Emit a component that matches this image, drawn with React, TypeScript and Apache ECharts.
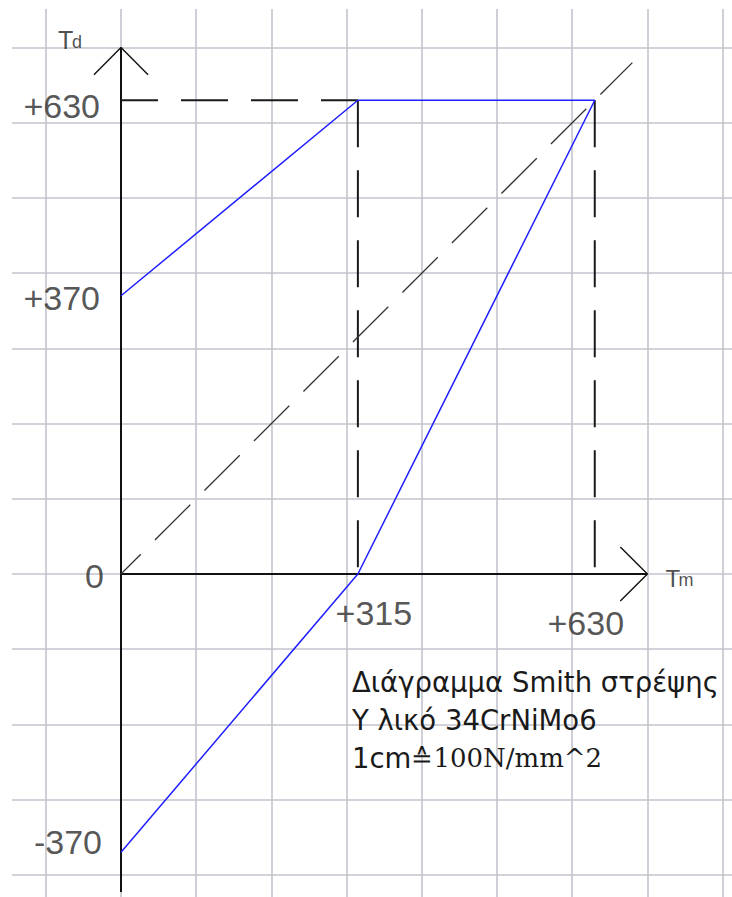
import React, { useEffect, useRef } from "react";
import * as echarts from "echarts";

// Smith diagram for torsion, material 34CrNiMo6 (values in N/mm^2)
const tauMValues = [315, 630]; // mean-stress ticks on the horizontal axis
const tauMLabels = ["+315", "+630"];
const tauDValues = [630, 370, 0, -370]; // ticks on the vertical axis
const tauDLabels = ["+630", "+370", "0", "-370"];

// limit curve: upper branch, yield plateau, lower branch
const limitCurve: [number, number][] = [
  [0, 370],
  [315, 630],
  [630, 630],
  [315, 0],
  [0, -370],
];

// construction lines
const yieldHorizontal: [number, number][] = [
  [0, 630],
  [315, 630],
];
const kneeVertical: [number, number][] = [
  [315, 630],
  [315, 0],
];
const yieldVertical: [number, number][] = [
  [630, 630],
  [630, 0],
];
const diagonal: [number, number][] = [
  [0, 0],
  [680, 680],
];

// drawn axes with arrow heads
const tauDAxis: [number, number][] = [
  [0, -423],
  [0, 700],
];
const tauDArrow: [number, number][] = [
  [-36, 664],
  [0, 700],
  [36, 664],
];
const tauMAxis: [number, number][] = [
  [0, 0],
  [700, 0],
];
const tauMArrow: [number, number][] = [
  [664, 36],
  [700, 0],
  [664, -36],
];

// coordinate window (grid spacing 100)
const xRange = [-200, 900];
const yRange = [-500, 800];

const SCALE = 0.752; // px per N/mm^2
const ORIGIN = { x: 109, y: 565 }; // origin inside the chart box

const numFont = "'Liberation Sans', Arial, sans-serif";

export default function App() {
  const ref = useRef<HTMLDivElement>(null);

  useEffect(() => {
    if (!ref.current) return;
    const chart = echarts.init(ref.current, null, { renderer: "svg" });

    const gridLeft = ORIGIN.x + xRange[0] * SCALE;
    const gridWidth = (xRange[1] - xRange[0]) * SCALE;
    const gridTop = ORIGIN.y - yRange[1] * SCALE;
    const gridHeight = (yRange[1] - yRange[0]) * SCALE;

    const yLabelOffsets: Record<string, [number, number]> = {
      "+630": [-21, 6],
      "+370": [-21, 2],
      "0": [-17, 2],
      "-370": [-19, -10],
    };
    const xLabelOffsets: Record<string, [number, number]> = {
      "+315": [16, 39],
      "+630": [-9, 49],
    };

    const plain = (
      name: string,
      data: [number, number][],
      color: string,
      width: number,
      type: any = "solid",
      dashOffset = 0,
      z = 2
    ) => ({
      name,
      type: "line",
      data,
      showSymbol: false,
      symbol: "none",
      silent: true,
      clip: false,
      z,
      lineStyle: { color, width, type, dashOffset, cap: "butt" },
    });

    // axis symbol parts: letter and its smaller index, both on one baseline
    const namePart = (
      at: [number, number],
      text: string,
      size: number,
      offset: [number, number]
    ) => ({
      value: [at[0], at[1]],
      label: {
        show: true,
        position: "inside",
        formatter: text,
        align: "left",
        verticalAlign: "bottom",
        offset,
        fontFamily: numFont,
        fontSize: size,
        color: "#222",
      },
    });

    chart.setOption({
      animation: false,
      backgroundColor: "#ffffff",
      grid: {
        left: gridLeft,
        top: gridTop,
        width: gridWidth,
        height: gridHeight,
        containLabel: false,
        outerBoundsMode: "none",
      },
      xAxis: {
        type: "value",
        min: xRange[0],
        max: xRange[1],
        interval: 100,
        axisLine: { show: false },
        axisTick: { show: false },
        axisLabel: { show: false },
        splitLine: { show: true, lineStyle: { color: "#c3c3cf", width: 1.6 } },
      },
      yAxis: {
        type: "value",
        min: yRange[0],
        max: yRange[1],
        interval: 100,
        axisLine: { show: false },
        axisTick: { show: false },
        axisLabel: { show: false },
        splitLine: { show: true, lineStyle: { color: "#c3c3cf", width: 1.6 } },
      },
      series: [
        plain("τd axis", tauDAxis, "#111", 2),
        plain("τd arrow", tauDArrow, "#111", 1.4),
        plain("τm axis", tauMAxis, "#111", 2),
        plain("τm arrow", tauMArrow, "#111", 1.4),
        plain("yield line", yieldHorizontal, "#1a1a1a", 2, [47, 23], 10),
        plain("knee line", kneeVertical, "#1a1a1a", 2, [47, 23], 0),
        plain("yield vertical", yieldVertical, "#1a1a1a", 2, [47, 23], 0),
        plain("diagonal", diagonal, "#333", 1.3, [50, 20], 22),
        plain("limit", limitCurve, "#1f1fff", 1.5, "solid", 0, 5),
        {
          name: "τd ticks",
          type: "scatter",
          silent: true,
          symbolSize: 0,
          itemStyle: { color: "rgba(0,0,0,0)" },
          data: tauDValues.map((v, i) => ({
            value: [0, v],
            label: {
              show: true,
              position: "inside",
              formatter: tauDLabels[i],
              align: "right",
              verticalAlign: "middle",
              offset: yLabelOffsets[tauDLabels[i]],
              fontFamily: numFont,
              fontSize: 34,
              color: "#2a2a2a",
            },
          })),
          z: 6,
        },
        {
          name: "τm ticks",
          type: "scatter",
          silent: true,
          symbolSize: 0,
          itemStyle: { color: "rgba(0,0,0,0)" },
          data: tauMValues.map((v, i) => ({
            value: [v, 0],
            label: {
              show: true,
              position: "inside",
              formatter: tauMLabels[i],
              align: "center",
              verticalAlign: "middle",
              offset: xLabelOffsets[tauMLabels[i]],
              fontFamily: numFont,
              fontSize: 34,
              color: "#2a2a2a",
            },
          })),
          z: 6,
        },
        {
          name: "axis names",
          type: "scatter",
          silent: true,
          symbolSize: 0,
          itemStyle: { color: "rgba(0,0,0,0)" },
          data: [
            namePart(tauDAxis[1], "T", 25, [-63, 5]),
            namePart(tauDAxis[1], "d", 18, [-49, 3]),
            namePart(tauMAxis[1], "T", 24, [18, 16]),
            namePart(tauMAxis[1], "m", 18, [31, 15]),
          ],
          z: 6,
        },
      ],
      graphic: [
        {
          type: "text",
          left: 340,
          top: 659,
          z: 10,
          style: {
            text: "{a|Διάγραμμα Smith στρέψης}\n{a|Υ λικό 34CrNiMo6}\n{a|1cm}{b|≙100N/mm^2}",
            rich: {
              a: {
                fontFamily: "'DejaVu Sans', sans-serif",
                fontSize: 27.5,
                lineHeight: 38,
                fill: "#1a1a1a",
              },
              b: {
                fontFamily: "'DejaVu Serif', serif",
                fontSize: 26,
                lineHeight: 38,
                fill: "#1a1a1a",
              },
            },
          },
        },
      ],
    });

    return () => chart.dispose();
  }, []);

  return (
    <div
      style={{
        position: "fixed",
        left: 0,
        top: 0,
        width: 732,
        height: 897,
        background: "#fff",
        overflow: "hidden",
      }}
    >
      <div
        ref={ref}
        style={{ position: "absolute", left: 12, top: 9, width: 720, height: 888 }}
      />
    </div>
  );
}
